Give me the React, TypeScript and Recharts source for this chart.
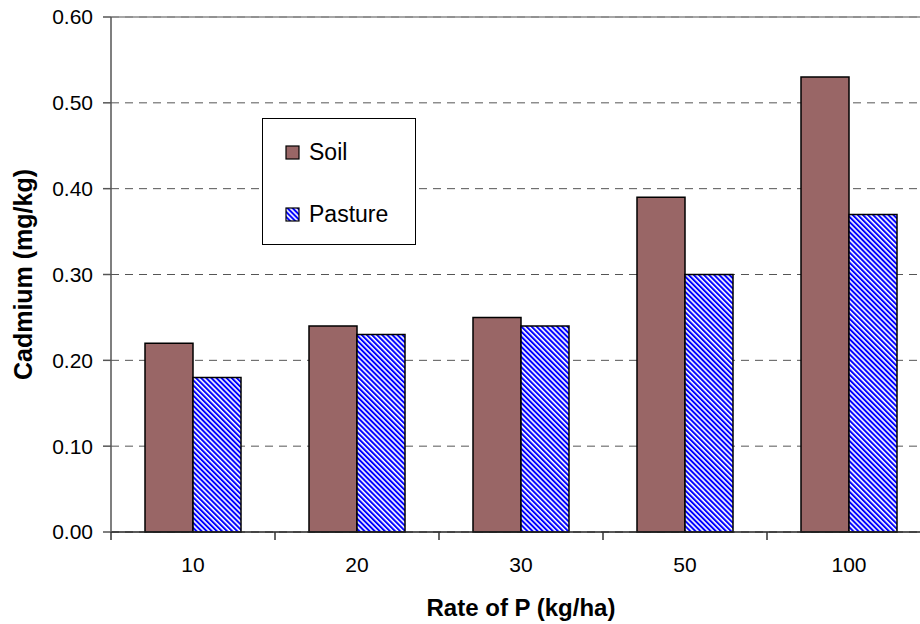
import { Bar, BarChart, CartesianGrid, Legend, ReferenceLine, XAxis, YAxis } from "recharts";

const rates = ["10", "20", "30", "50", "100"];
const soil = [0.22, 0.24, 0.25, 0.39, 0.53];
const pasture = [0.18, 0.23, 0.24, 0.3, 0.37];
const yTicks = [0, 0.1, 0.2, 0.3, 0.4, 0.5, 0.6];

const data = rates.map((rate, i) => ({ rate, soil: soil[i], pasture: pasture[i] }));

const FONT = '"Liberation Sans", Arial, sans-serif';
const SOIL_COLOR = "#996666";
const CHART_W = 940;
const CHART_H = 624;
const Y_AXIS_W = 111;
const MARGIN = { top: 17, right: 9, bottom: 0, left: 0 };
const BAND = (CHART_W - Y_AXIS_W - MARGIN.right) / rates.length;

// "\" diagonal blue stripes on white
function Stripes({ id }: { id: string }) {
  return (
    <pattern id={id} patternUnits="userSpaceOnUse" width={3.6} height={10} patternTransform="rotate(-45)">
      <rect width={3.6} height={10} fill="#ffffff" />
      <rect width={2} height={10} fill="#0000ff" />
    </pattern>
  );
}

function XTick(props: any) {
  const { x, y, payload, index } = props;
  const half = BAND / 2;
  return (
    <g>
      <line x1={x - half} y1={y} x2={x - half} y2={y + 8} stroke="#333" strokeWidth={1.5} />
      {index === rates.length - 1 && (
        <line x1={x + half} y1={y} x2={x + half} y2={y + 8} stroke="#333" strokeWidth={1.5} />
      )}
      <text x={x} y={y + 40} textAnchor="middle" fontSize={21} fontFamily={FONT} fill="#000">
        {payload.value}
      </text>
    </g>
  );
}

function LegendBox() {
  const row = (label: string, fill: string) => (
    <div style={{ display: "flex", alignItems: "center", height: 31 }}>
      <svg width={16} height={16} style={{ marginRight: 8 }}>
        <defs>
          <Stripes id="legendStripes" />
        </defs>
        <rect x={1} y={1} width={13} height={13} fill={fill} stroke="#000" strokeWidth={1.2} />
      </svg>
      <span style={{ fontSize: 23, fontFamily: FONT, color: "#000" }}>{label}</span>
    </div>
  );
  return (
    <div
      style={{
        width: 154,
        height: 127,
        border: "1px solid #000",
        background: "#fff",
        boxSizing: "border-box",
        paddingLeft: 22,
        paddingTop: 18,
        display: "flex",
        flexDirection: "column",
        gap: 31,
      }}
    >
      {row("Soil", SOIL_COLOR)}
      {row("Pasture", "url(#legendStripes)")}
    </div>
  );
}

export default function App() {
  return (
    <div style={{ position: "fixed", left: 0, top: 0, width: 920, height: 624, overflow: "hidden", background: "#fff" }}>
      <BarChart width={CHART_W} height={CHART_H} data={data} margin={MARGIN} barGap={0}>
        <defs>
          <Stripes id="pastureStripes" />
        </defs>
        <CartesianGrid vertical={false} stroke="#555" strokeDasharray="8 6" />
        <ReferenceLine y={0.6} stroke="#8a8a8a" strokeWidth={1.5} />
        <XAxis
          dataKey="rate"
          height={92}
          axisLine={{ stroke: "#222", strokeWidth: 1.5 }}
          tickLine={false}
          tickSize={0}
          tickMargin={0}
          tick={<XTick />}
          interval={0}
          label={{
            content: ({ viewBox }: any) => (
              <text
                x={viewBox.x + viewBox.width / 2}
                y={616}
                textAnchor="middle"
                fontSize={24}
                fontWeight="bold"
                fontFamily={FONT}
                fill="#000"
              >
                Rate of P (kg/ha)
              </text>
            ),
          }}
        />
        <YAxis
          width={Y_AXIS_W}
          domain={[0, 0.6]}
          ticks={yTicks}
          interval={0}
          tickFormatter={(v: number) => v.toFixed(2)}
          axisLine={{ stroke: "#555", strokeWidth: 1.5 }}
          tickLine={{ stroke: "#555", strokeWidth: 1.5 }}
          tickSize={8}
          tickMargin={10}
          tick={{ fontSize: 21, fontFamily: FONT, fill: "#000" }}
          label={{
            content: ({ viewBox }: any) => {
              const cx = 23;
              const cy = viewBox.y + viewBox.height / 2;
              return (
                <text
                  x={cx}
                  y={cy}
                  transform={`rotate(-90 ${cx} ${cy})`}
                  textAnchor="middle"
                  dominantBaseline="central"
                  fontSize={25}
                  fontWeight="bold"
                  fontFamily={FONT}
                  fill="#000"
                >
                  Cadmium (mg/kg)
                </text>
              );
            },
          }}
        />
        <Legend
          layout="vertical"
          align="center"
          verticalAlign="middle"
          content={<LegendBox />}
          wrapperStyle={{ position: "absolute", left: 262, top: 118, width: 154, height: 127 }}
        />
        <Bar dataKey="soil" name="Soil" barSize={48} fill={SOIL_COLOR} stroke="#000" strokeWidth={1.5} isAnimationActive={false} />
        <Bar
          dataKey="pasture"
          name="Pasture"
          barSize={48}
          fill="url(#pastureStripes)"
          stroke="#000"
          strokeWidth={1.5}
          isAnimationActive={false}
        />
      </BarChart>
    </div>
  );
}
